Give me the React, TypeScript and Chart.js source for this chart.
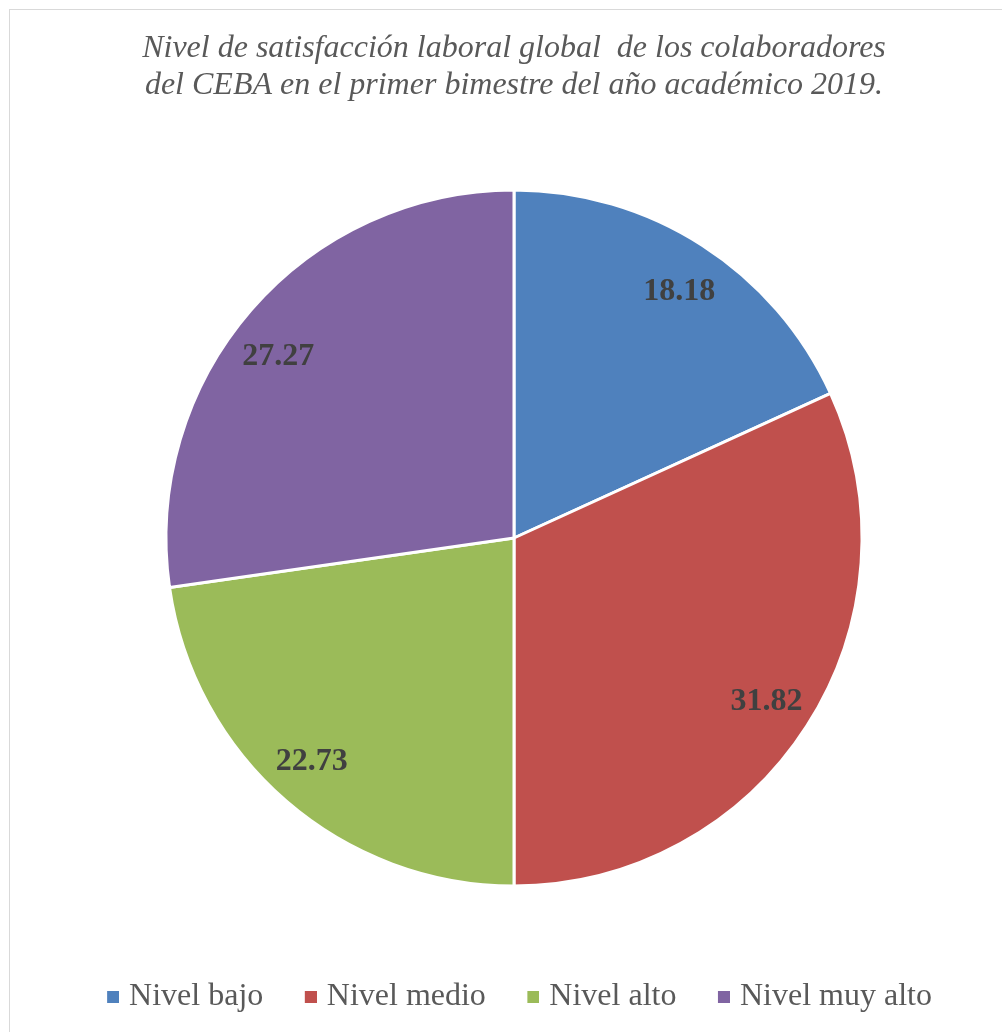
import React, { useEffect, useRef } from "react";
import { Chart, registerables } from "chart.js";

Chart.register(...registerables);

const categories = ["Nivel bajo", "Nivel medio", "Nivel alto", "Nivel muy alto"];
const values = [18.18, 31.82, 22.73, 27.27];
const colors = ["#4F81BD", "#C0504D", "#9BBB59", "#8064A2"];
const titleLines = [
  "Nivel de satisfacción laboral global  de los colaboradores",
  "del CEBA en el primer bimestre del año académico 2019.",
];
// small angular nudges (degrees) of the value labels, as in the source layout
const labelNudgeDeg = [0.8, -0.3, 1.6, -2.9];

const SERIF = "'Liberation Serif', 'Times New Roman', serif";

const labelPlugin = {
  id: "sliceLabels",
  afterDatasetsDraw(chart: any) {
    const ctx = chart.ctx;
    const meta = chart.getDatasetMeta(0);
    ctx.save();
    ctx.font = `bold 32px ${SERIF}`;
    ctx.fillStyle = "#404040";
    ctx.textAlign = "center";
    ctx.textBaseline = "middle";
    meta.data.forEach((arc: any, i: number) => {
      const p = arc.getProps(["x", "y", "startAngle", "endAngle", "outerRadius"], true);
      const mid = (p.startAngle + p.endAngle) / 2 + (labelNudgeDeg[i] * Math.PI) / 180;
      const r = p.outerRadius * 0.86;
      ctx.fillText(values[i].toFixed(2), p.x + Math.cos(mid) * r, p.y + Math.sin(mid) * r + 3);
    });
    ctx.restore();
  },
};

// legend marker: 29px-wide image whose right 12px hold the coloured square
function makeMarker(color: string) {
  const c = document.createElement("canvas");
  c.width = 29;
  c.height = 12;
  const g = c.getContext("2d");
  if (g) {
    g.fillStyle = color;
    g.fillRect(17, 0, 12, 12);
  }
  return c;
}

export default function App() {
  const ref = useRef<HTMLCanvasElement | null>(null);
  useEffect(() => {
    if (!ref.current) return;
    const markers = colors.map(makeMarker);
    const chart = new Chart(ref.current, {
      type: "pie",
      data: {
        labels: categories,
        datasets: [
          {
            data: values,
            backgroundColor: colors,
            borderColor: "#ffffff",
            borderWidth: 3,
            radius: 348,
          } as any,
        ],
      },
      options: {
        animation: false,
        responsive: true,
        maintainAspectRatio: false,
        layout: { padding: { left: 26, right: 0, top: 0, bottom: 0 } },
        plugins: {
          tooltip: { enabled: false },
          title: {
            display: true,
            text: titleLines,
            color: "#595959",
            font: { family: SERIF, size: 32, style: "italic", weight: "normal", lineHeight: 37 / 32 },
            padding: { top: 30.5, bottom: 21 },
          },
          legend: {
            display: true,
            position: "bottom",
            labels: {
              color: "#595959",
              font: { family: SERIF, size: 32 },
              usePointStyle: true,
              boxWidth: 17,
              boxHeight: 12,
              padding: 30.5,
              generateLabels: (c: any) => {
                const base = (Chart as any).overrides.pie.plugins.legend.labels.generateLabels(c);
                return base.map((it: any, i: number) => ({ ...it, pointStyle: markers[i] }));
              },
            },
          },
        },
      },
      plugins: [labelPlugin],
    });
    return () => chart.destroy();
  }, []);
  return (
    <div style={{ position: "absolute", left: 0, top: 0, width: 1002, height: 1032, overflow: "hidden", background: "#fff" }}>
      <div style={{ position: "absolute", left: 9, top: 9, width: 1100, height: 1100, borderLeft: "1px solid #d9d9d9", borderTop: "1px solid #d9d9d9" }} />
      <div style={{ position: "absolute", left: 0, top: 0, width: 1002, height: 1023 }}>
        <canvas ref={ref} />
      </div>
    </div>
  );
}
